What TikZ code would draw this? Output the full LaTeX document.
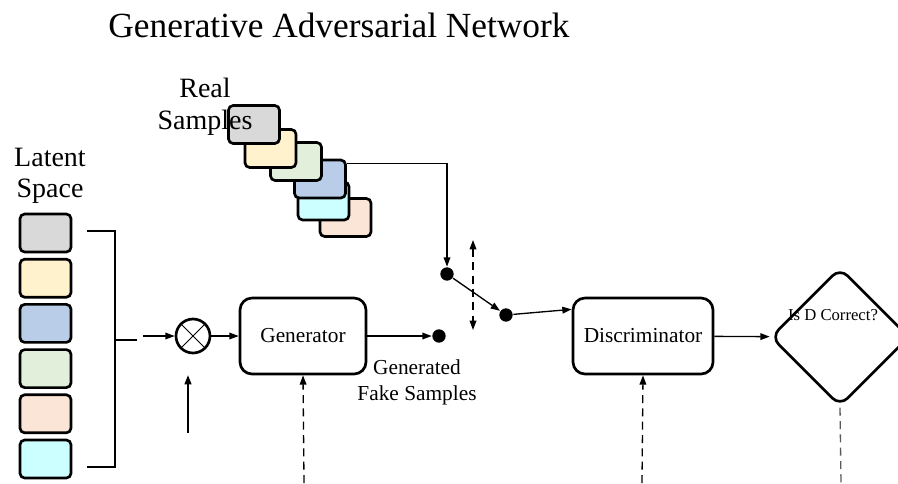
\documentclass[tikz,border=0pt]{standalone}
\usepackage{fontspec}
\setmainfont{Liberation Serif}
\usetikzlibrary{arrows.meta,shapes.geometric}

\definecolor{smpgray}{HTML}{D9D9D9}
\definecolor{smpyellow}{HTML}{FFF2CC}
\definecolor{smpblue}{HTML}{B9CDE8}
\definecolor{smpgreen}{HTML}{E2EFDA}
\definecolor{smporange}{HTML}{FBE5D6}
\definecolor{smpcyan}{HTML}{CCFFFF}
\definecolor{judgeline}{HTML}{595959}

\tikzset{every picture/.style={line width=1pt}}
\tikzset{
  sample/.style={draw, rounded corners=3.5pt, line width=2pt, minimum width=38.25pt, minimum height=28.5pt, inner sep=0pt},
  block/.style={draw, rounded corners=9pt, line width=2pt, minimum height=57pt, inner sep=0pt, font=\fontsize{16}{19}\selectfont},
  dot/.style={circle, fill=black, inner sep=0pt, minimum size=10pt},
  flow/.style={-{Triangle[length=7pt,width=5pt]}},
  ctrl/.style={dash pattern=on 6pt off 4pt, -{Triangle[length=7pt,width=5pt]}}
}

\begin{document}
\begin{tikzpicture}[x=0.75pt,y=0.75pt,yscale=-1,xscale=1]
\useasboundingbox (0,0) rectangle (898,483);

% Title
\node[anchor=base, inner sep=0pt, font=\fontsize{26.5}{30}\selectfont] (title) at (339,37) {Generative Adversarial Network};

% Latent space
\node[align=center, inner sep=0pt, font=\fontsize{21}{23}\selectfont] (latentlbl) at (50,176) {Latent\\Space};
\foreach \col [count=\i] in {smpgray,smpyellow,smpblue,smpgreen,smporange,smpcyan}
  \node[sample, fill=\col] (z\i) at (45.5,{233+45.2*(\i-1)}) {};

% Bracket
\coordinate (brtop) at (87,231);
\coordinate (brbot) at (87,467);
\coordinate (brmid) at (115,340);
\coordinate (brout) at (137,340);
\draw (brtop) -| (brmid) |- (brbot);
\draw (brmid) -- (brout);

% Mixer
\node[circle, draw, line width=2pt, minimum size=25.5pt, inner sep=0pt,
  path picture={\draw[line width=0.75pt] (path picture bounding box.north west) -- (path picture bounding box.south east)
    (path picture bounding box.south west) -- (path picture bounding box.north east);}] (mix) at (193,336) {};
\coordinate (mixin) at (143,336);
\draw[flow] (mixin) -- (mix);
\coordinate (noise) at (188,433);
\coordinate (noisetip) at (188,375);
\draw[flow, line width=1.5pt] (noise) -- (noisetip);

% Generator
\node[block, minimum width=94.5pt] (gen) at (303,336) {Generator};
\draw[flow] (mix) -- (gen);
\node[dot] (fake) at (439,336) {};
\draw[flow] (gen) -- (fake);
\node[align=center, inner sep=0pt, font=\fontsize{16}{19.5}\selectfont] (fakelbl) at (417,382) {Generated\\Fake Samples};
\coordinate (genctl) at (304,483);
\draw[ctrl] (genctl) -- (gen.south);

% Real samples
\node[sample, fill=smporange] (r6) at (345.5,217.5) {};
\node[sample, fill=smpcyan] (r5) at (323.5,201) {};
\node[sample, fill=smpblue] (r4) at (320,179) {};
\node[sample, fill=smpgreen] (r3) at (296,161.5) {};
\node[sample, fill=smpyellow] (r2) at (270.5,148.5) {};
\node[sample, fill=smpgray] (r1) at (254,124.5) {};
\node[align=center, inner sep=0pt, font=\fontsize{21}{24}\selectfont] (reallbl) at (205,107) {Real\\Samples};

% Switch
\node[dot] (realpt) at (447,274) {};
\draw[flow] ([yshift=3.5pt]r4.north east) -| (realpt);
\node[dot] (sel) at (506,315) {};
\draw[flow] (realpt) -- (sel);
\coordinate (swtop) at (473,240);
\coordinate (swbot) at (473,330);
\draw[dash pattern=on 6pt off 4pt, {Triangle[length=7pt,width=5pt]}-{Triangle[length=7pt,width=5pt]}] (swtop) -- (swbot);

% Discriminator
\node[block, minimum width=105pt] (disc) at (643,336) {Discriminator};
\draw[flow] (sel) -- ([yshift=-20pt]disc.west);
\coordinate (discctl) at (642,483);
\draw[ctrl] (discctl) -- (disc.south);

% Decision
\node[diamond, draw, line width=2pt, rounded corners=8pt, inner sep=0pt, minimum width=104pt, minimum height=104pt] (judge) at (840,337) {};
\node[anchor=base, inner sep=0pt, font=\fontsize{12.5}{14}\selectfont] (judgelbl) at (833,320) {Is D Correct?};
\draw[flow] (disc) -- (judge);
\coordinate (judgeout) at (841,483);
\draw[judgeline, dash pattern=on 6pt off 4pt] (judge.south) -- (judgeout);

\end{tikzpicture}
\end{document}
